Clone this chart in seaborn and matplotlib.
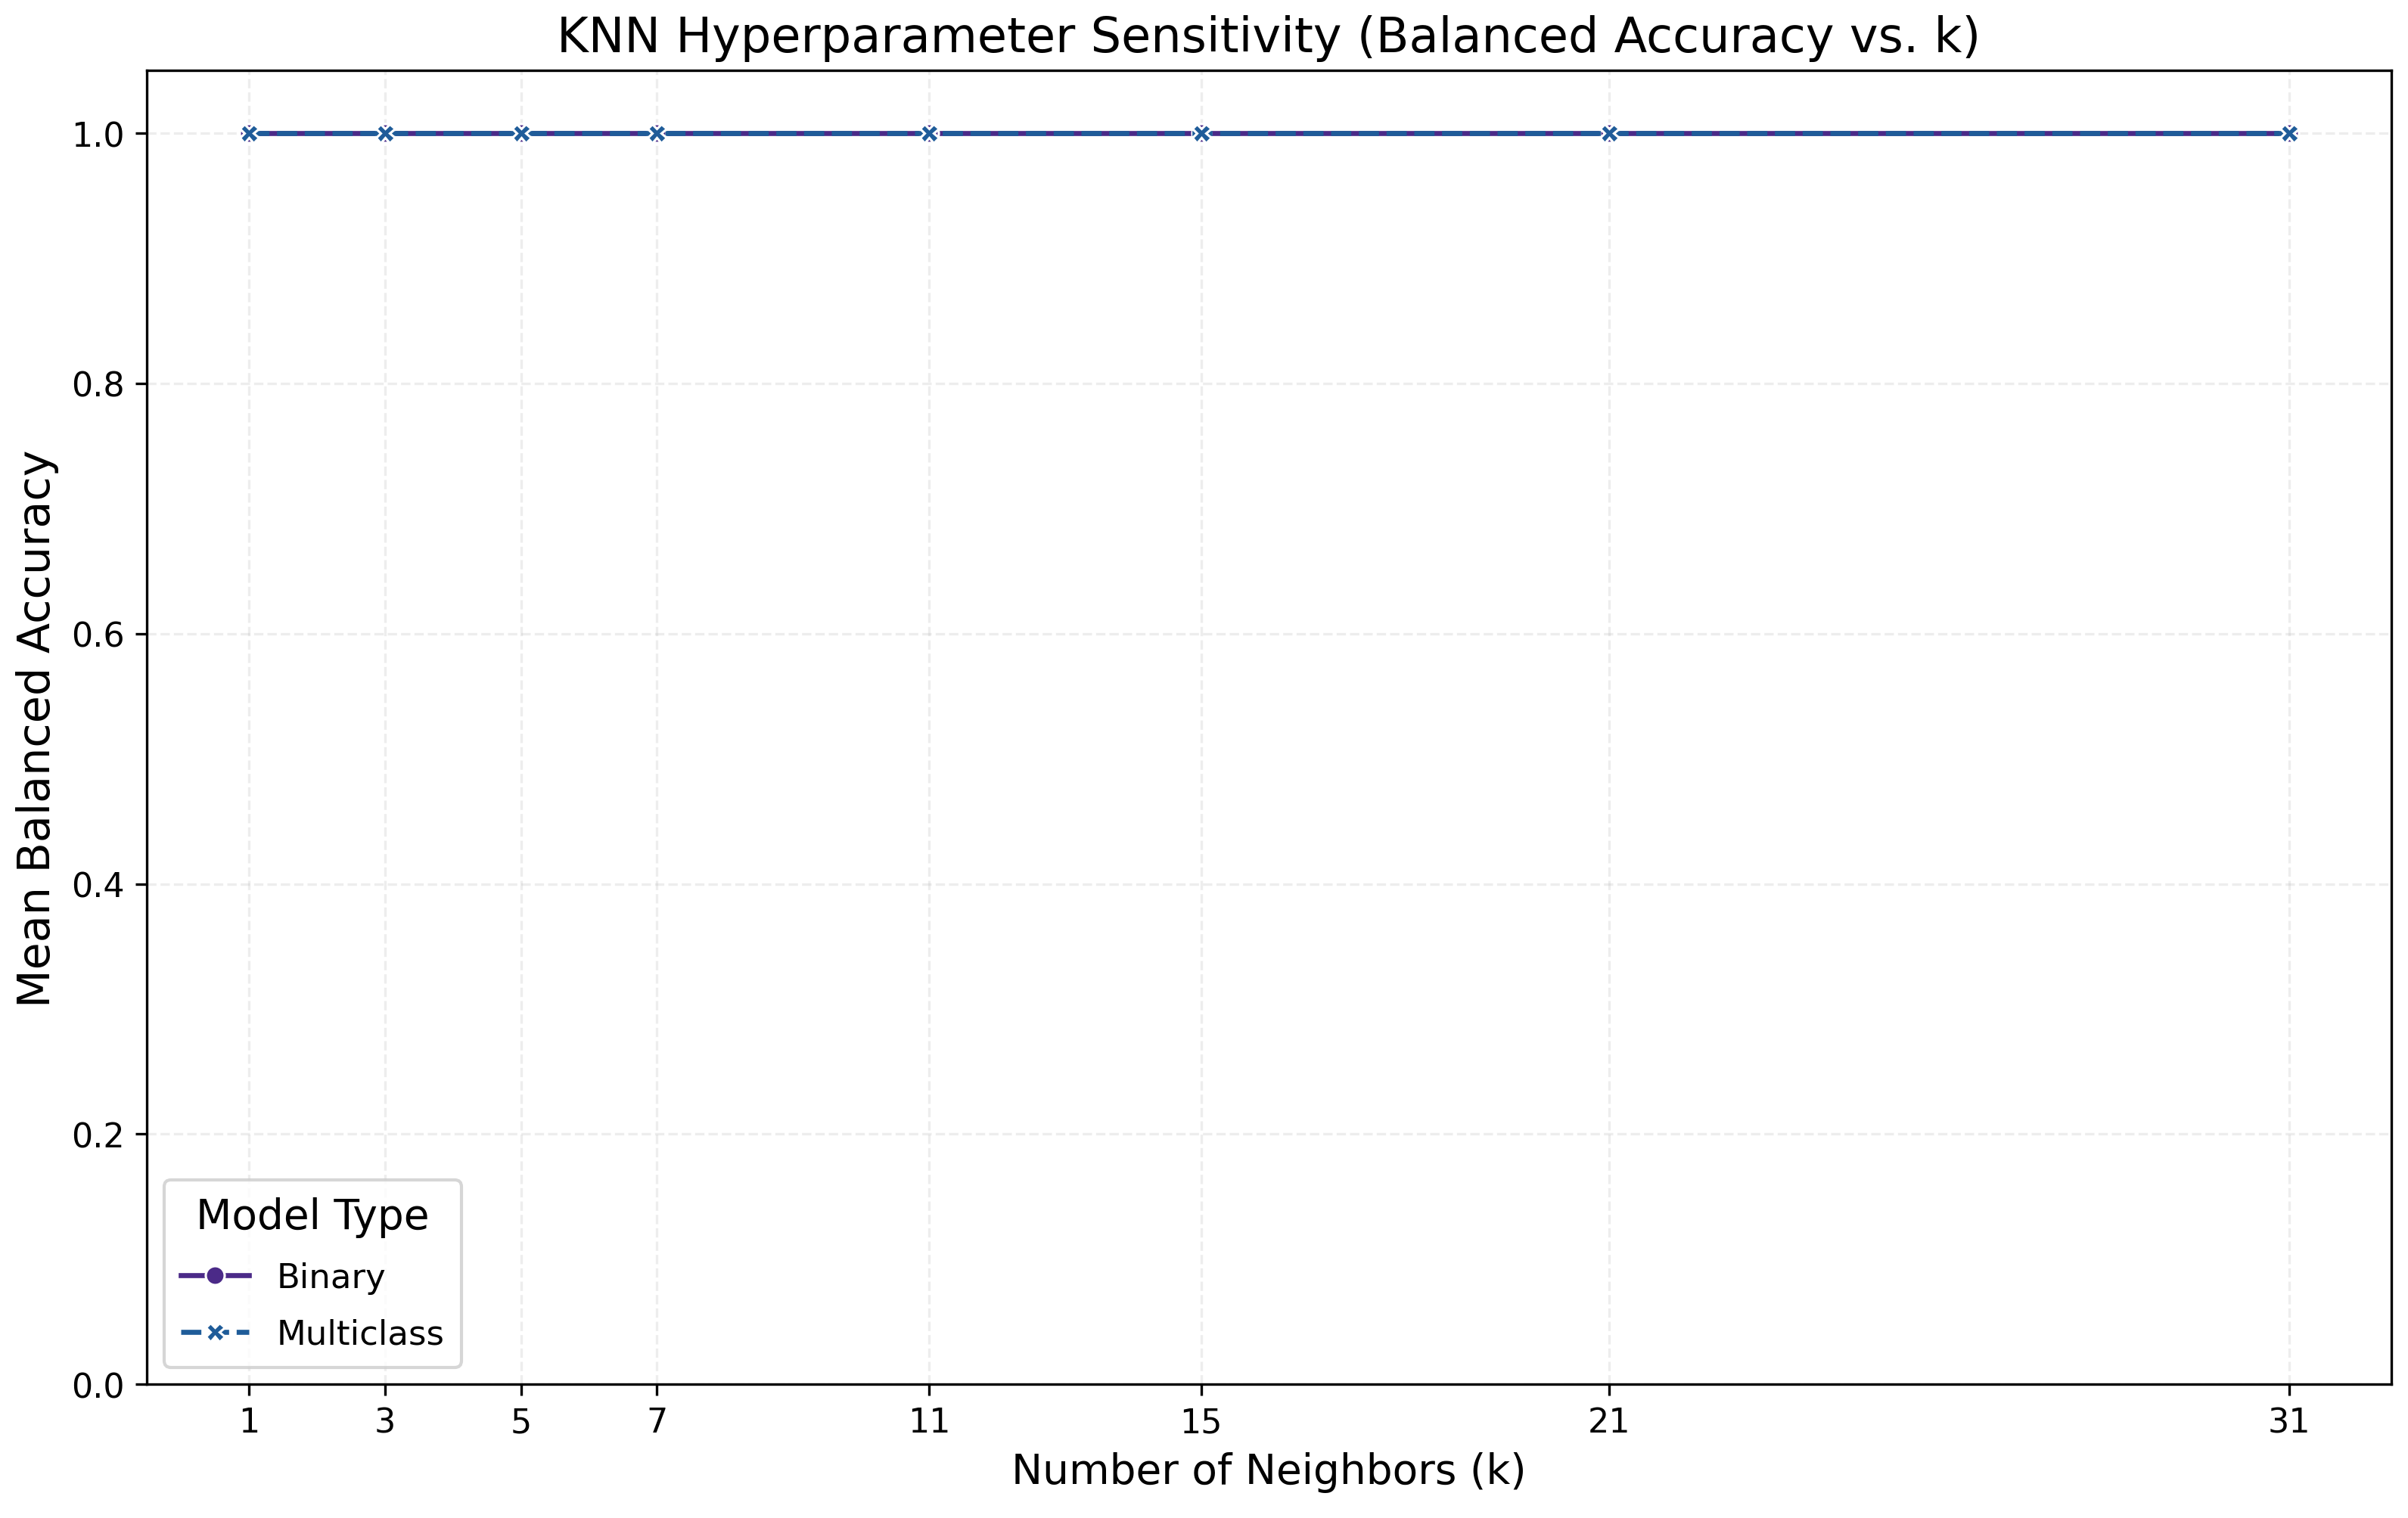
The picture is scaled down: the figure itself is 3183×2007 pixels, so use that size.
import pandas as pd
import matplotlib
matplotlib.use("Agg")
import matplotlib.pyplot as plt
import seaborn as sns

# k values tested and mean balanced accuracy per model type
k_values = [1, 3, 5, 7, 11, 15, 21, 31]
binary_acc = [1.0, 1.0, 1.0, 1.0, 1.0, 1.0, 1.0, 1.0]
multiclass_acc = [1.0, 1.0, 1.0, 1.0, 1.0, 1.0, 1.0, 1.0]
model_types = ["Binary", "Multiclass"]

data = pd.DataFrame({
    "k": k_values * 2,
    "Mean Balanced Accuracy": binary_acc + multiclass_acc,
    "Model Type": ["Binary"] * len(k_values) + ["Multiclass"] * len(k_values),
})

colors = {"Binary": "#4b2a88", "Multiclass": "#1f5c99"}

fig, ax = plt.subplots(figsize=(10.61, 6.693), dpi=300)
sns.lineplot(data=data, x="k", y="Mean Balanced Accuracy", hue="Model Type",
             style="Model Type", hue_order=model_types, style_order=model_types,
             markers=True, dashes=True, palette=colors, linewidth=1.6, ax=ax)

ax.set_title("KNN Hyperparameter Sensitivity (Balanced Accuracy vs. k)", fontsize=15.3)
ax.set_xlabel("Number of Neighbors (k)", fontsize=13.2)
ax.set_ylabel("Mean Balanced Accuracy", fontsize=14.1)
ax.set_xticks(k_values)
ax.set_ylim(0, 1.05)
ax.tick_params(labelsize=10.7)
ax.grid(True, linestyle="--", alpha=0.22)
ax.legend(title="Model Type", loc="lower left", fontsize=10.8, title_fontsize=13.2,
          labelspacing=0.7, borderpad=0.5)

fig.subplots_adjust(left=0.061, right=0.993, bottom=0.088, top=0.953)
fig.savefig("out.png", dpi=300)
